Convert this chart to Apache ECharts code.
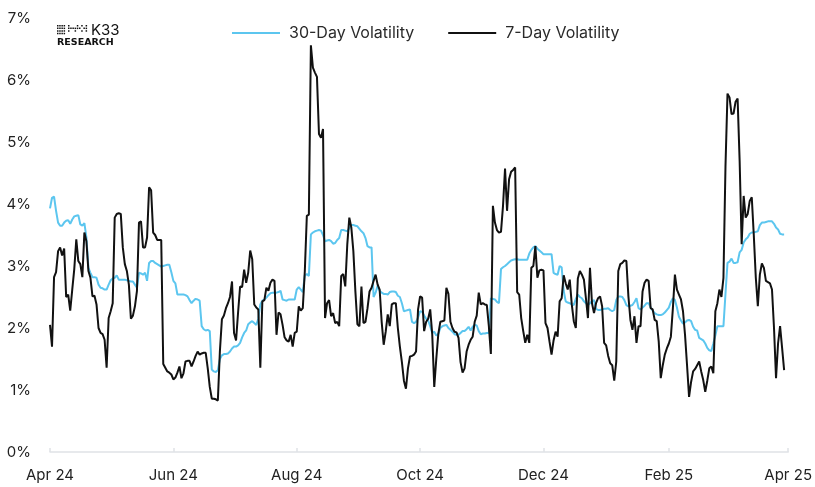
<!DOCTYPE html>
<html>
<head>
<meta charset="utf-8">
<script src="https://cdn.jsdelivr.net/npm/echarts@6/dist/echarts.min.js"></script>
<style>
html,body{margin:0;padding:0;background:#fff;}
#chart{width:815px;height:487px;}
</style>
</head>
<body>
<div id="chart"></div>
<script>
// daily series, first value = 1 Apr 2024
var startDay = [2024, 3, 1];
var tickDates = ['2024-04-01','2024-06-01','2024-08-01','2024-10-01','2024-12-01','2025-02-01','2025-04-01'];
var tickLabels = ['Apr 24','Jun 24','Aug 24','Oct 24','Dec 24','Feb 25','Apr 25'];
var yTicks = [0,1,2,3,4,5,6,7];

// 30-day volatility (%)
var vol30 = [
	3.93,4.10,4.12,3.89,3.70,3.65,3.65,3.70,3.73,3.74,
	3.68,3.75,3.80,3.81,3.82,3.67,3.65,3.69,3.46,2.97,
	2.89,2.82,2.82,2.81,2.70,2.65,2.64,2.62,2.62,2.70,
	2.77,2.80,2.81,2.85,2.78,2.78,2.78,2.78,2.77,2.76,
	2.75,2.75,2.70,2.65,2.89,2.88,2.86,2.89,2.76,3.05,
	3.08,3.08,3.05,3.03,3.01,2.99,3.00,3.01,3.02,3.02,
	2.90,2.76,2.72,2.54,2.54,2.54,2.54,2.53,2.51,2.45,
	2.40,2.44,2.47,2.46,2.44,2.03,1.98,1.96,1.97,1.95,
	1.33,1.30,1.29,1.32,1.50,1.56,1.58,1.58,1.59,1.62,
	1.67,1.70,1.70,1.72,1.76,1.85,1.92,1.96,2.06,2.09,
	2.11,2.08,2.05,2.15,2.38,2.44,2.46,2.49,2.53,2.56,
	2.57,2.57,2.57,2.58,2.60,2.46,2.45,2.44,2.46,2.46,
	2.46,2.46,2.62,2.66,2.62,2.58,2.85,2.87,2.84,3.51,
	3.54,3.56,3.57,3.58,3.57,3.50,3.40,3.41,3.42,3.40,
	3.36,3.37,3.42,3.45,3.58,3.58,3.57,3.56,3.61,3.66,
	3.66,3.65,3.64,3.60,3.56,3.53,3.45,3.32,3.30,3.30,
	2.50,2.57,2.68,2.60,2.57,2.55,2.55,2.54,2.58,2.59,
	2.59,2.58,2.52,2.50,2.40,2.27,2.28,2.29,2.30,2.10,
	2.08,2.10,2.17,2.27,2.26,2.20,2.15,2.12,2.03,1.92,
	1.94,1.88,1.90,2.00,2.03,2.04,2.05,2.00,1.97,1.94,
	1.90,1.89,1.89,1.92,1.95,1.95,1.98,2.02,1.96,2.02,
	2.05,2.04,1.95,1.90,1.91,1.91,1.92,1.92,2.48,2.47,
	2.46,2.42,2.40,2.95,2.98,3.00,3.03,3.06,3.09,3.10,
	3.11,3.11,3.10,3.10,3.10,3.10,3.10,3.20,3.26,3.30,
	3.32,3.28,3.25,3.22,3.19,3.19,3.19,3.19,3.19,2.89,
	2.87,2.86,3.00,2.98,2.60,2.43,2.41,2.40,2.38,2.37,
	2.47,2.54,2.50,2.48,2.43,2.40,2.37,2.40,2.43,2.45,
	2.31,2.29,2.29,2.30,2.31,2.31,2.32,2.29,2.27,2.29,
	2.45,2.51,2.51,2.50,2.45,2.37,2.35,2.36,2.37,2.42,
	2.48,2.32,2.30,2.33,2.36,2.40,2.40,2.33,2.28,2.24,
	2.22,2.21,2.21,2.22,2.25,2.29,2.33,2.42,2.48,2.45,
	2.33,2.18,2.12,2.07,2.09,2.12,2.13,2.11,2.02,1.97,
	1.96,1.84,1.82,1.80,1.75,1.68,1.64,1.63,1.75,1.88,
	2.03,2.03,2.03,2.03,2.55,3.05,3.07,3.12,3.05,3.05,
	3.06,3.22,3.26,3.38,3.43,3.46,3.52,3.54,3.54,3.55,
	3.56,3.66,3.70,3.70,3.71,3.72,3.72,3.72,3.68,3.62,
	3.59,3.52,3.51,3.51
];

// 7-day volatility (%)
var vol7 = [
	2.05,1.70,2.82,2.90,3.24,3.30,3.17,3.28,2.50,2.54,
	2.28,2.62,2.95,3.43,3.08,3.03,2.82,3.54,3.40,2.92,
	2.81,2.51,2.52,2.38,2.00,1.92,1.90,1.81,1.36,2.16,
	2.27,2.40,3.78,3.84,3.85,3.84,3.30,3.03,2.92,2.70,
	2.15,2.20,2.35,2.60,3.70,3.72,3.30,3.30,3.46,4.27,
	4.22,3.54,3.50,3.42,3.42,3.42,1.42,1.36,1.30,1.28,
	1.25,1.17,1.20,1.28,1.38,1.19,1.27,1.46,1.47,1.47,
	1.38,1.46,1.55,1.62,1.57,1.59,1.60,1.60,1.35,1.05,
	0.86,0.86,0.85,0.83,1.62,2.14,2.20,2.32,2.40,2.50,
	2.75,1.92,1.80,2.25,2.67,2.66,2.94,2.73,2.89,3.25,
	3.11,2.38,2.33,2.30,1.36,2.43,2.45,2.65,2.60,2.73,
	2.78,2.76,1.89,2.25,2.22,2.05,1.85,1.80,1.78,1.89,
	1.70,1.92,1.94,2.35,2.28,2.32,2.92,3.81,3.83,6.56,
	6.20,6.12,6.05,5.13,5.07,5.21,2.16,2.40,2.45,2.19,
	2.24,2.08,2.10,2.03,2.84,2.87,2.67,3.35,3.78,3.62,
	3.24,2.59,2.06,2.03,2.67,2.08,2.10,2.32,2.59,2.65,
	2.76,2.86,2.70,2.62,2.10,1.73,1.94,2.22,2.03,2.38,
	2.40,2.40,2.00,1.70,1.45,1.15,1.02,1.35,1.54,1.55,
	1.57,1.62,2.30,2.51,2.49,1.95,2.10,2.15,2.30,1.90,
	1.05,1.50,1.90,2.10,2.11,2.12,2.65,2.55,2.10,2.00,
	1.94,1.93,1.84,1.45,1.28,1.35,1.62,1.73,1.81,1.86,
	2.10,2.20,2.57,2.38,2.40,2.38,2.37,2.03,1.58,3.97,
	3.70,3.58,3.54,3.55,3.97,4.57,3.89,4.40,4.52,4.55,
	4.59,2.58,2.54,2.16,1.95,1.76,1.89,1.76,2.97,3.00,
	3.32,2.81,2.93,2.94,2.93,2.08,2.00,1.78,1.57,1.80,
	1.94,1.86,2.43,2.48,2.85,2.72,2.62,2.78,2.38,2.11,
	2.00,2.80,2.92,2.86,2.78,2.48,2.16,2.97,2.40,2.24,
	2.40,2.48,2.51,2.35,1.76,1.72,1.55,1.43,1.40,1.15,
	1.46,2.92,3.03,3.05,3.09,3.08,2.51,2.13,1.97,2.19,
	1.76,2.03,2.03,2.59,2.73,2.78,2.76,2.32,2.30,2.13,
	2.11,1.78,1.19,1.40,1.57,1.67,1.75,1.86,2.32,2.86,
	2.62,2.54,2.46,2.27,1.89,1.40,0.89,1.13,1.30,1.34,
	1.40,1.46,1.30,1.16,0.97,1.15,1.35,1.38,1.27,2.27,
	2.40,2.62,2.50,2.81,4.60,5.78,5.72,5.45,5.46,5.65,
	5.70,4.70,3.35,4.13,3.78,3.84,4.05,4.11,3.50,2.81,
	2.35,2.86,3.04,2.97,2.76,2.74,2.72,2.62,2.00,1.19,
	1.75,2.03,1.68,1.32
];

function dayTs(i){
	return new Date(startDay[0], startDay[1], startDay[2] + i).getTime();
}
function dateTs(s){
	var p = s.split('-');
	return new Date(+p[0], +p[1] - 1, +p[2]).getTime();
}
function toPairs(arr){
	var out = [];
	for (var i = 0; i < arr.length; i++) out.push([dayTs(i), arr[i]]);
	return out;
}
var tickTs = tickDates.map(dateTs);

// K33 logo dots (decoration only)
var logoDots = [];
var dotRows = ['####.#...#.#.#', '####.######.##', '####.#..#..#.#', '####..........'];
dotRows.forEach(function(row, r){
	for (var c = 0; c < row.length; c++) {
		if (row[c] == '#') {
			logoDots.push({type:'rect', left:57 + c*2.2, top:25 + r*2.6, shape:{width:1.5, height:1.5}, style:{fill:'#111'}});
		}
	}
});

var chart = echarts.init(document.getElementById('chart'));
var font = 'Inter, "Noto Sans", sans-serif';
var option = {
	backgroundColor: '#fff',
	animation: false,
	textStyle: {fontFamily: font},
	grid: {left: 50, right: 24, top: 18, bottom: 35, containLabel: false},
	legend: {
		left: 227, top: 20,
		icon: 'rect',
		itemWidth: 48, itemHeight: 2, itemGap: 34,
		textStyle: {fontSize: 16, color: '#2a2a2a', fontFamily: font, padding: [0, 0, 0, 4]},
		data: ['30-Day Volatility', '7-Day Volatility']
	},
	xAxis: {
		type: 'value',
		min: tickTs[0],
		max: tickTs[tickTs.length - 1],
		offset: 3,
		axisLine: {show: true, lineStyle: {color: '#dfe2e6', width: 1.5}},
		axisTick: {show: true, inside: true, customValues: tickTs, length: 4, lineStyle: {color: '#dfe2e6', width: 1.5}},
		axisLabel: {
			customValues: tickTs,
			color: '#222', fontSize: 15, margin: 13, fontFamily: font,
			formatter: function(v){
				var best = 0;
				for (var i = 1; i < tickTs.length; i++) {
					if (Math.abs(tickTs[i] - v) < Math.abs(tickTs[best] - v)) best = i;
				}
				return tickLabels[best];
			}
		},
		splitLine: {show: false}
	},
	yAxis: {
		type: 'value',
		min: yTicks[0], max: yTicks[yTicks.length - 1], interval: 1,
		axisLine: {show: false},
		axisTick: {show: false},
		splitLine: {show: false},
		axisLabel: {color: '#222', fontSize: 15, margin: 19, fontFamily: font, formatter: '{value}%'}
	},
	graphic: logoDots.concat([
		{type:'text', left:91, top:23, style:{text:'K33', fontSize:15, fill:'#111', fontFamily:font}},
		{type:'text', left:57, top:38, style:{text:'RESEARCH', fontSize:9.5, fontWeight:'bold', fill:'#111', fontFamily:'"DejaVu Sans", sans-serif'}}
	]),
	series: [
		{
			name: '30-Day Volatility', type: 'line', symbol: 'none',
			data: toPairs(vol30),
			lineStyle: {width: 2, color: '#5cc6ef'}, itemStyle: {color: '#5cc6ef'}
		},
		{
			name: '7-Day Volatility', type: 'line', symbol: 'none',
			data: toPairs(vol7),
			lineStyle: {width: 2, color: '#111'}, itemStyle: {color: '#111'}
		}
	]
};
chart.setOption(option);
</script>
</body>
</html>
